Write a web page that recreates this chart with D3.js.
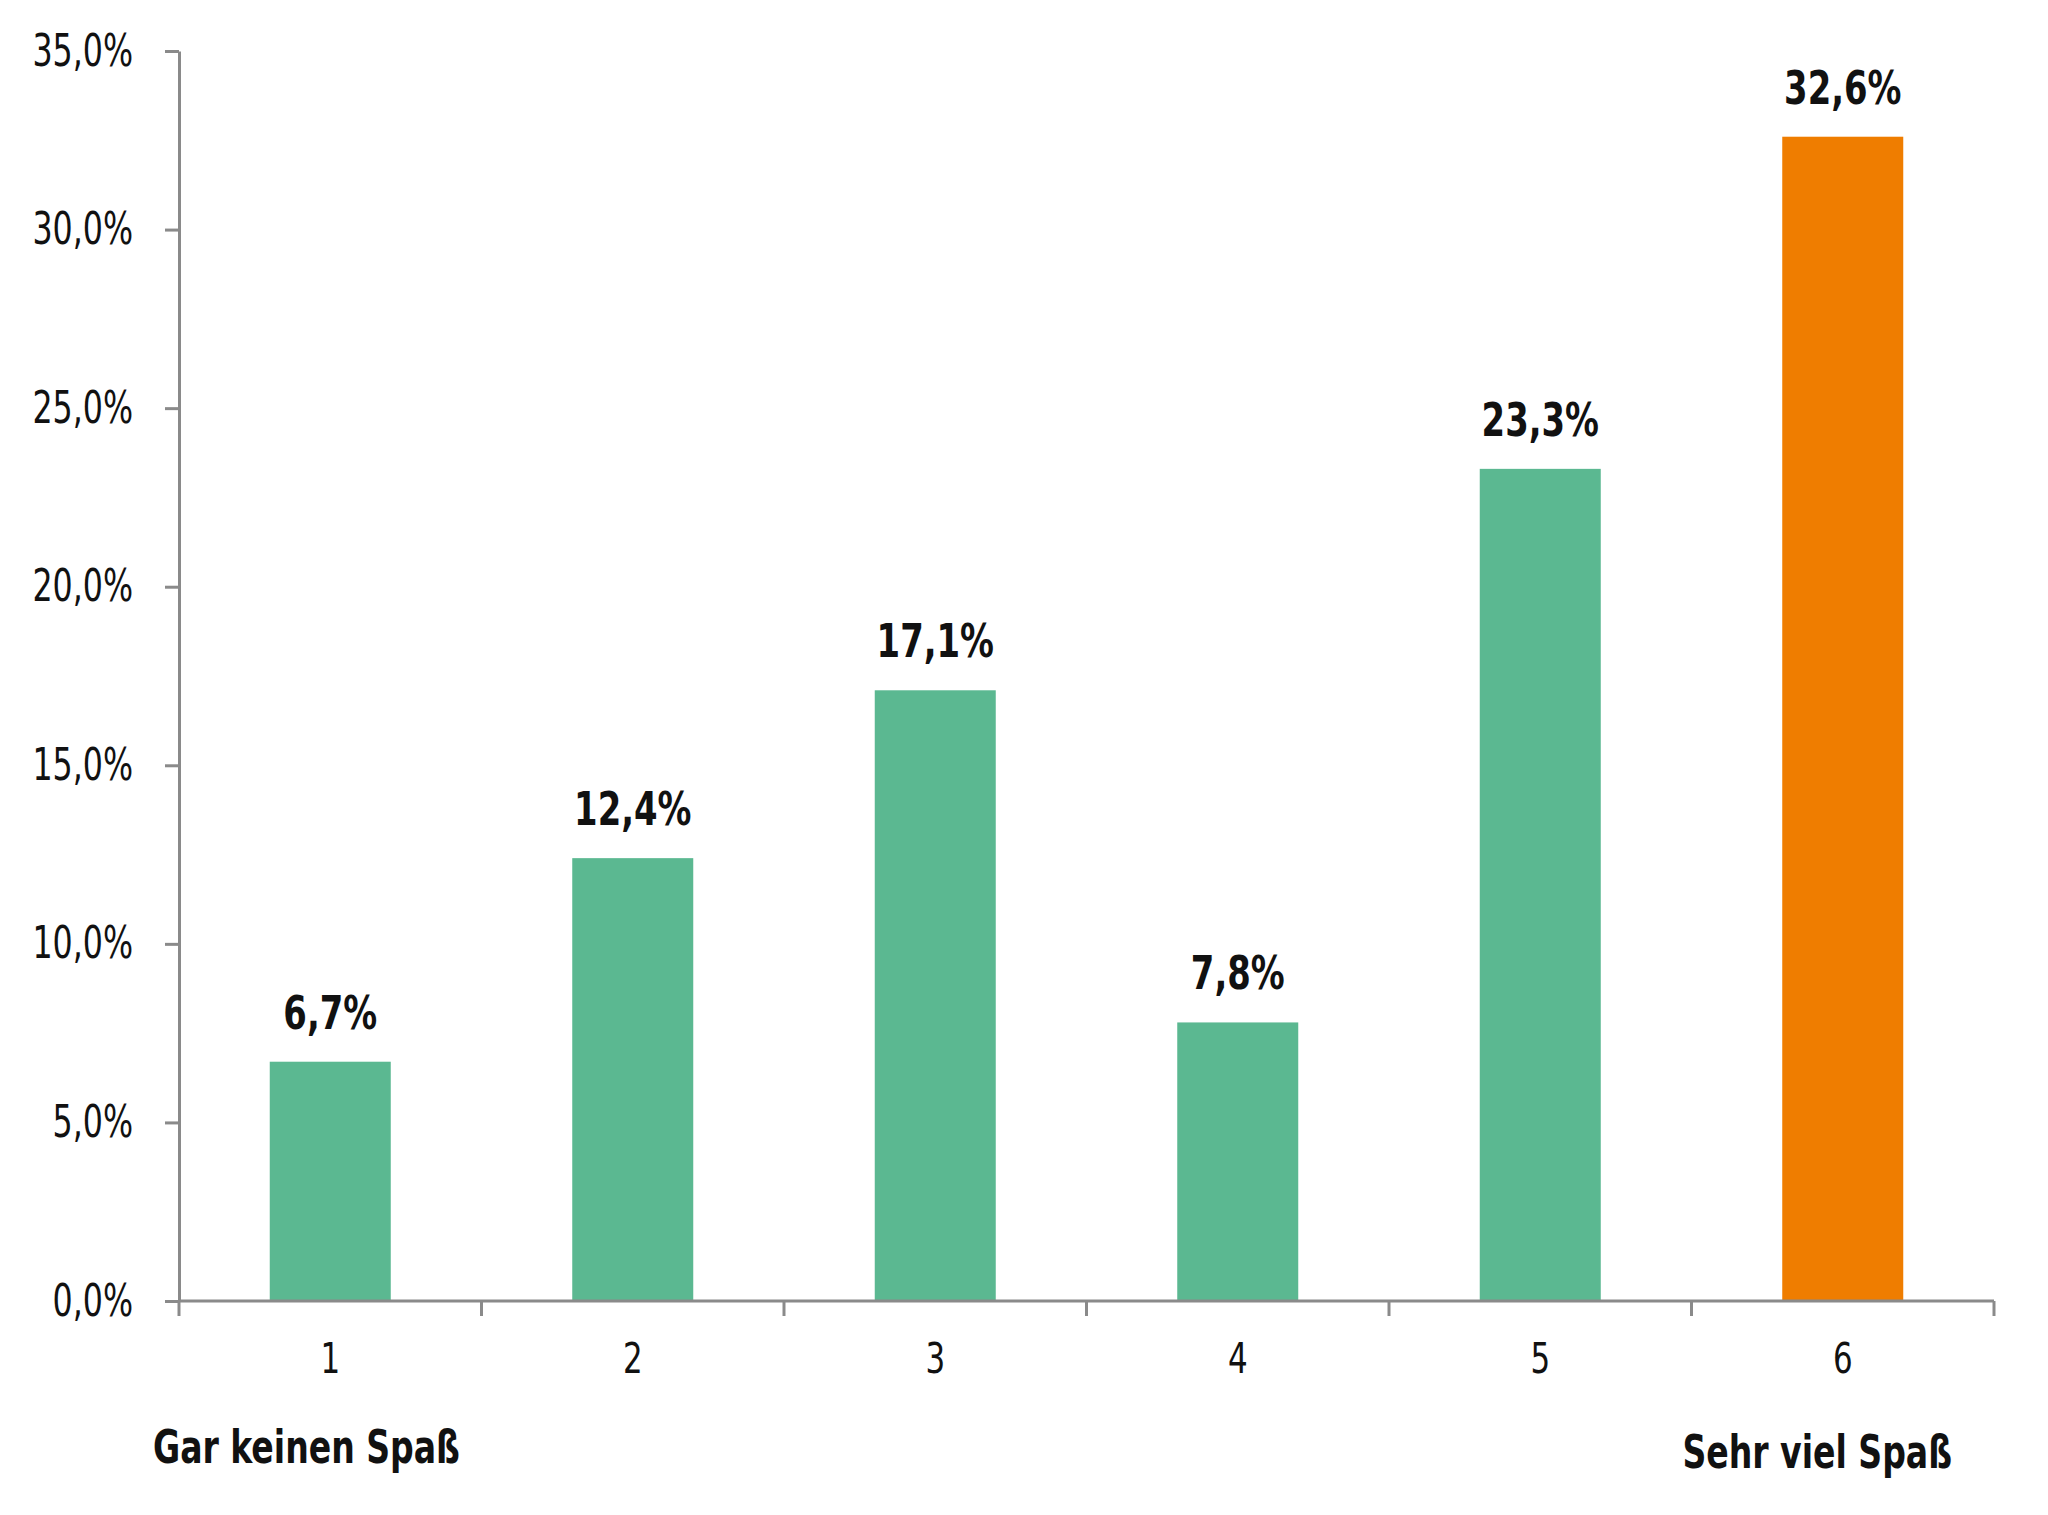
<!DOCTYPE html>
<html>
<head>
  <meta charset="utf-8">
  <script src="https://d3js.org/d3.v7.min.js"></script>
  <style>
    body { margin: 0; background: #fff; }
    text { font-family: "Liberation Sans Narrow", "DejaVu Sans Condensed", "Roboto Condensed", sans-serif; }
    .axis path, .axis line { stroke: #8a8a8a; stroke-width: 3px; }
  </style>
</head>
<body>
  <svg id="chart" width="2048" height="1515"></svg>
  <script>
    // Data
    const categories = ["1", "2", "3", "4", "5", "6"];
    const values = [6.7, 12.4, 17.1, 7.8, 23.3, 32.6];
    const yTicks = [0, 5, 10, 15, 20, 25, 30, 35];
    const leftLabel = "Gar keinen Spaß";
    const rightLabel = "Sehr viel Spaß";

    const svg = d3.select("#chart");
    const margin = { left: 179, right: 54, top: 51, bottom: 214 };
    const width = 2048, height = 1515;
    // the original uses a condensed face, so squeeze text horizontally
    const squeeze = 0.8;

    const fmt = v => d3.format(".1f")(v).replace(".", ",") + "%";
    const place = (x, y) => "translate(" + x + "," + y + ") scale(" + squeeze + ",1)";

    const x = d3.scaleBand()
      .domain(categories)
      .range([margin.left, width - margin.right])
      .paddingInner(0.6)
      .paddingOuter(0.3);

    const y = d3.scaleLinear()
      .domain([0, 35])
      .range([height - margin.bottom, margin.top]);

    // bars
    svg.selectAll("rect.bar").data(values)
      .join("rect")
      .attr("class", "bar")
      .attr("x", (d, i) => x(categories[i]))
      .attr("width", x.bandwidth())
      .attr("y", d => y(d))
      .attr("height", d => y(0) - y(d))
      .attr("fill", (d, i) => i === values.length - 1 ? "#ef7d00" : "#5bb891");

    // value labels
    svg.selectAll("text.val").data(values)
      .join("text")
      .attr("class", "val")
      .attr("transform", (d, i) => place(x(categories[i]) + x.bandwidth() / 2, y(d) - 33))
      .attr("text-anchor", "middle")
      .attr("font-size", 47)
      .attr("font-weight", "bold")
      .attr("fill", "#111")
      .text(d => fmt(d));

    // y axis
    const yAxis = svg.append("g")
      .attr("class", "axis")
      .attr("transform", "translate(" + margin.left + ",0)")
      .call(d3.axisLeft(y).tickValues(yTicks).tickSize(14).tickSizeOuter(0).tickFormat(fmt));
    yAxis.selectAll("text")
      .attr("x", -46 / squeeze)
      .attr("transform", "scale(" + squeeze + ",1)")
      .attr("font-size", 44).attr("fill", "#111");

    // x axis: ticks at band boundaries
    const xg = svg.append("g").attr("class", "axis");
    xg.append("line")
      .attr("x1", margin.left).attr("x2", width - margin.right)
      .attr("y1", y(0)).attr("y2", y(0));
    const step = x.step();
    const bounds = d3.range(categories.length + 1).map(i => margin.left + i * step);
    xg.selectAll("line.tick").data(bounds)
      .join("line")
      .attr("class", "tick")
      .attr("x1", d => d).attr("x2", d => d)
      .attr("y1", y(0)).attr("y2", y(0) + 15);
    xg.selectAll("text").data(categories)
      .join("text")
      .attr("transform", d => place(x(d) + x.bandwidth() / 2, y(0) + 72))
      .attr("text-anchor", "middle")
      .attr("font-size", 43)
      .attr("fill", "#111")
      .text(d => d);

    // end labels
    svg.append("text")
      .attr("transform", place(153, 1463))
      .attr("font-size", 46).attr("font-weight", "bold").attr("fill", "#111")
      .text(leftLabel);
    svg.append("text")
      .attr("transform", place(1952, 1468))
      .attr("text-anchor", "end")
      .attr("font-size", 46).attr("font-weight", "bold").attr("fill", "#111")
      .text(rightLabel);
  </script>
</body>
</html>
